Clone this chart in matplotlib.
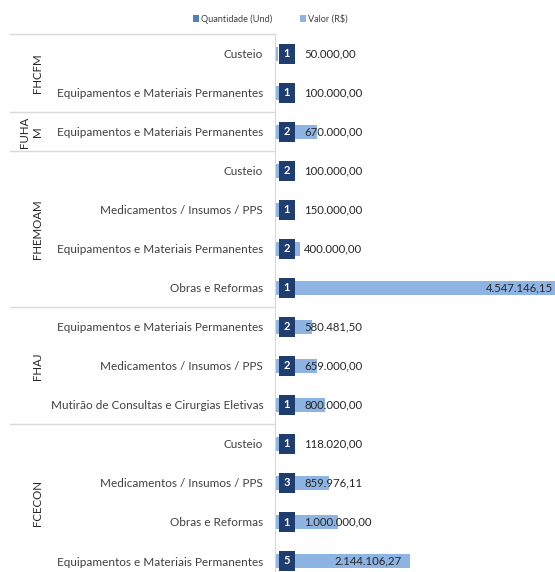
import matplotlib.pyplot as plt
from matplotlib.transforms import blended_transform_factory
from matplotlib.lines import Line2D

plt.rcParams['font.family'] = ['Lato', 'DejaVu Sans']

# data, top to bottom
grupos = ['FHCFM', 'FUHA\nM', 'FHEMOAM', 'FHAJ', 'FCECON']
tamanho_grupo = [2, 1, 4, 3, 4]
categorias = ['Custeio', 'Equipamentos e Materiais Permanentes',
              'Equipamentos e Materiais Permanentes',
              'Custeio', 'Medicamentos / Insumos / PPS',
              'Equipamentos e Materiais Permanentes', 'Obras e Reformas',
              'Equipamentos e Materiais Permanentes', 'Medicamentos / Insumos / PPS',
              'Mutirão de Consultas e Cirurgias Eletivas',
              'Custeio', 'Medicamentos / Insumos / PPS', 'Obras e Reformas',
              'Equipamentos e Materiais Permanentes']
quantidade = [1, 1, 2, 2, 1, 2, 1, 2, 2, 1, 1, 3, 1, 5]
valor = [50000.00, 100000.00, 670000.00, 100000.00, 150000.00, 400000.00,
         4547146.15, 580481.50, 659000.00, 800000.00, 118020.00, 859976.11,
         1000000.00, 2144106.27]

W, H = 555, 572
fig = plt.figure(figsize=(W / 100, H / 100), dpi=100)
left_px, right_px, top_px, bot_px = 275, 565, 34.5, 580.5
ax = fig.add_axes([left_px / W, 1 - bot_px / H, (right_px - left_px) / W, (bot_px - top_px) / H])

y = list(range(len(categorias)))
ax.barh(y, quantidade, height=0.5, color='#4F81BD', label='Quantidade (Und)')
ax.barh(y, valor, height=0.38, color='#8EB4E3', label='Valor (R$)')
ax.set_xlim(0, 4.6e6)
ax.set_ylim(len(categorias) - 0.5, -0.5)

ax.set_yticks(y)
ax.set_yticklabels(categorias, fontsize=8.5, color='#404040')
ax.tick_params(axis='y', length=0, pad=8.5)
ax.set_xticks([])
for s in ['top', 'right', 'bottom']:
    ax.spines[s].set_visible(False)
ax.spines['left'].set_color('#D9D9D9')

def fmt(v):
    s = f'{v:,.2f}'
    return s.replace(',', 'X').replace('.', ',').replace('X', '.')

for yi, q, v in zip(y, quantidade, valor):
    ax.annotate(str(q), xy=(0, yi), xytext=(8.6, 0), textcoords='offset points',
                ha='center', va='center', fontsize=8, fontweight='bold', color='white',
                bbox=dict(boxstyle='square,pad=0.42', fc='#1F3D6E', ec='none'))
    if v > 2e6:
        ax.annotate(fmt(v), xy=(v, yi), xytext=(-6, 0), textcoords='offset points',
                    ha='right', va='center', fontsize=8.2, color='#262626')
    else:
        ax.annotate(fmt(v), xy=(0, yi), xytext=(21, 0), textcoords='offset points',
                    ha='left', va='center', fontsize=8.2, color='#262626')

# group separators and labels
tr = blended_transform_factory(fig.transFigure, ax.transData)
start = 0
bounds = [-0.5]
for g, n in zip(grupos, tamanho_grupo):
    end = start + n
    bounds.append(end - 0.5)
    ax.text(43 / W, (start + end - 1) / 2, g, transform=tr, rotation=90,
            ha='right', va='center', fontsize=8.3, color='#262626',
            linespacing=1.25, multialignment='center')
    start = end
for b in bounds:
    ax.add_line(Line2D([10 / W, left_px / W], [b, b], transform=tr, color='#D9D9D9',
                       lw=1, clip_on=False))

fig.legend(loc='upper center', bbox_to_anchor=(270 / W, 1 - 6 / H), ncol=2, frameon=False,
           fontsize=6.6, handlelength=0.7, handleheight=0.7, handletextpad=0.2,
           columnspacing=3.0, labelcolor='#404040')

fig.savefig('out.png', dpi=100)
